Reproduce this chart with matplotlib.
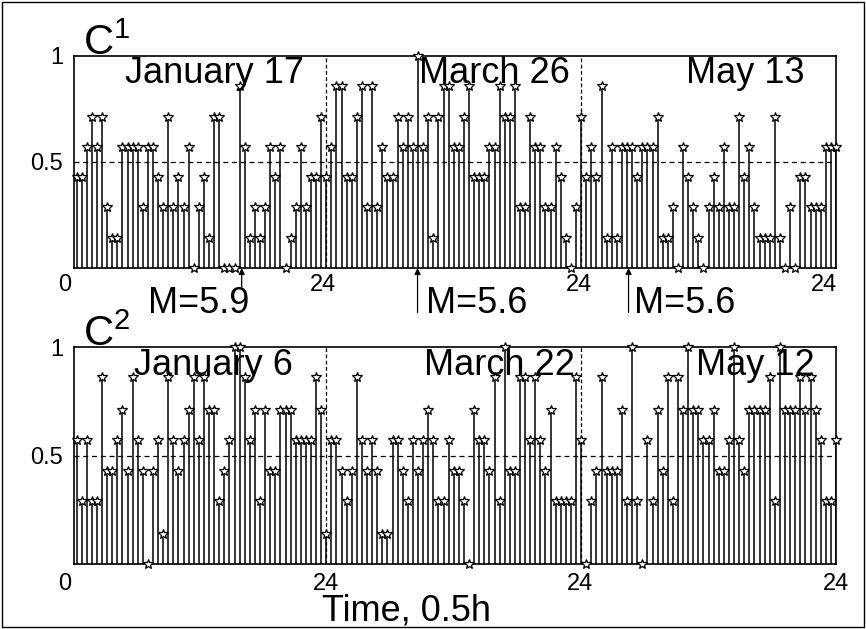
import matplotlib
matplotlib.use("Agg")
import matplotlib.pyplot as plt
from matplotlib.patches import Rectangle
import numpy as np

plt.rcParams['font.family'] = ['Liberation Sans', 'DejaVu Sans']

# ---- data: normalised counts, 50 half-hour samples per day ----
c1_jan17 = [0.43,0.43,0.57,0.71,0.57,0.71,0.29,0.14,0.14,0.57,
            0.57,0.57,0.57,0.29,0.57,0.57,0.43,0.29,0.71,0.29,
            0.43,0.29,0.57,0.00,0.29,0.43,0.14,0.71,0.71,0.00,
            0.00,0.00,0.86,0.57,0.14,0.29,0.14,0.29,0.57,0.43,
            0.57,0.00,0.14,0.29,0.57,0.29,0.43,0.43,0.71,0.43]
c1_mar26 = [0.57,0.86,0.86,0.43,0.43,0.71,0.86,0.29,0.86,0.29,
            0.57,0.43,0.43,0.71,0.57,0.71,0.57,1.00,0.57,0.71,
            0.14,0.71,0.86,0.86,0.57,0.57,0.71,0.86,0.43,0.43,
            0.43,0.57,0.57,0.86,0.71,0.71,0.86,0.29,0.29,0.71,
            0.57,0.57,0.29,0.29,0.57,0.43,0.14,0.00,0.29,0.71]
c1_may13 = [0.43,0.57,0.43,0.86,0.14,0.57,0.14,0.57,0.57,0.57,
            0.43,0.57,0.57,0.57,0.71,0.14,0.14,0.29,0.00,0.57,
            0.43,0.29,0.14,0.00,0.29,0.43,0.29,0.57,0.29,0.29,
            0.71,0.43,0.57,0.29,0.14,0.14,0.14,0.71,0.14,0.00,
            0.29,0.00,0.43,0.43,0.29,0.29,0.29,0.57,0.57,0.57]
c2_jan6 = [0.57,0.29,0.57,0.29,0.29,0.86,0.43,0.43,0.57,0.71,
           0.43,0.86,0.57,0.43,0.00,0.43,0.57,0.14,0.86,0.57,
           0.43,0.57,0.71,0.86,0.57,0.86,0.71,0.71,0.29,0.43,
           0.57,1.00,1.00,0.86,0.57,0.71,0.29,0.71,0.43,0.43,
           0.71,0.71,0.71,0.57,0.57,0.57,0.57,0.86,0.71,0.14]
c2_mar22 = [0.57,0.57,0.43,0.29,0.43,0.86,0.57,0.43,0.57,0.43,
            0.14,0.14,0.57,0.57,0.43,0.29,0.57,0.43,0.57,0.71,
            0.57,0.29,0.29,0.57,0.43,0.43,0.29,0.00,0.71,0.57,
            0.57,0.43,0.86,0.29,1.00,0.43,0.43,0.86,0.86,0.57,
            0.86,0.57,0.43,0.71,0.29,0.29,0.29,0.29,0.86,0.57]
c2_may12 = [0.00,0.29,0.43,0.86,0.43,0.43,0.43,0.71,0.29,1.00,
            0.29,0.00,0.57,0.29,0.71,0.43,0.86,0.29,0.86,0.71,
            1.00,0.71,0.71,0.57,0.57,0.71,0.43,0.43,0.57,1.00,
            0.57,0.43,0.71,0.71,0.71,0.71,0.86,0.29,1.00,0.71,
            0.71,0.71,0.86,0.71,0.86,0.71,0.57,0.29,0.29,0.57]

days_c1 = ["January 17", "March 26", "May 13"]
days_c2 = ["January 6", "March 22", "May 12"]
tick_labels = ["0", "24", "24", "24"]
quake_x = [33.4, 67.9, 109.3]          # sample index of the events
quake_labels = ["M=5.9", "M=5.6", "M=5.6"]

W, H = 866, 629
fig = plt.figure(figsize=(W/100, H/100), dpi=100)
fig.patches.append(Rectangle((2/W, 2/H), 1-4/W, 1-4/H, transform=fig.transFigure,
                             fill=False, edgecolor='black', lw=1.0))

def px_axes(x0, y0, x1, y1):
    return fig.add_axes([x0/W, 1-y1/H, (x1-x0)/W, (y1-y0)/H])

ax1 = px_axes(74, 56, 836, 268)
ax2 = px_axes(74, 347, 836, 564)

def draw(ax, segs, days, text_x, text_y, label_xs, label_y):
    vals = np.concatenate([np.asarray(s) for s in segs])
    x = np.arange(1, len(vals)+1)
    ax.set_xlim(0.5, 150)
    ax.set_ylim(0, 1)
    ax.vlines(x, 0, vals, color='black', lw=1.1)
    ax.plot(x, vals, linestyle='none', marker='*', markersize=7,
            markerfacecolor='white', markeredgecolor='black',
            markeredgewidth=0.9, clip_on=False, zorder=3)
    ax.axhline(0.5, color='black', ls=(0, (4, 3)), lw=0.9)
    for b in (50, 100):
        ax.axvline(b, color='black', ls=(0, (3, 2)), lw=0.9)
    ax.set_xticks([])
    ax.set_yticks([0.5, 1])
    ax.set_yticklabels(['0.5', '1'], fontsize=17)
    ax.tick_params(axis='y', length=0, pad=8)
    for s in ax.spines.values():
        s.set_linewidth(1.2)
    for tx, d in zip(text_x, days):
        ax.text(tx, text_y, d, fontsize=26, ha='left', va='baseline',
                transform=ax.transData)
    for lx, lab in zip(label_xs, tick_labels):
        ax.text(lx, label_y, lab, fontsize=17, ha='center', va='top',
                transform=ax.transData, clip_on=False)

draw(ax1, [c1_jan17, c1_mar26, c1_may13], days_c1,
     [10.6, 68.2, 120.5], 0.873, [-1.3, 49.4, 99.6, 147.6], -0.03)
draw(ax2, [c2_jan6, c2_mar22, c2_may12], days_c2,
     [12.3, 69.2, 122.5], 0.871, [-1.3, 50.0, 99.7, 150.0], -0.04)

# C labels
ax1.text(0.012, 1.005, r'C$^{\mathregular{1}}$', transform=ax1.transAxes,
         fontsize=30, ha='left', va='baseline')
ax2.text(0.012, 1.005, r'C$^{\mathregular{2}}$', transform=ax2.transAxes,
         fontsize=30, ha='left', va='baseline')

# event arrows and magnitude labels
arrow_from = [-0.09, -0.21, -0.21]
label_x = [15.0, 69.6, 110.4]
for qx, lab, y0, lx in zip(quake_x, quake_labels, arrow_from, label_x):
    ax1.annotate('', xy=(qx, 0.0), xytext=(qx, y0), xycoords='data',
                 arrowprops=dict(arrowstyle='-|>', color='black', lw=0.9,
                                 mutation_scale=9, shrinkA=0, shrinkB=0),
                 annotation_clip=False)
    ax1.text(lx, -0.21, lab, fontsize=26, ha='left', va='baseline',
             clip_on=False)

ax2.text(0.437, -0.135, 'Time, 0.5h', transform=ax2.transAxes, fontsize=26,
         ha='center', va='top')

fig.savefig('out.png', dpi=100)
